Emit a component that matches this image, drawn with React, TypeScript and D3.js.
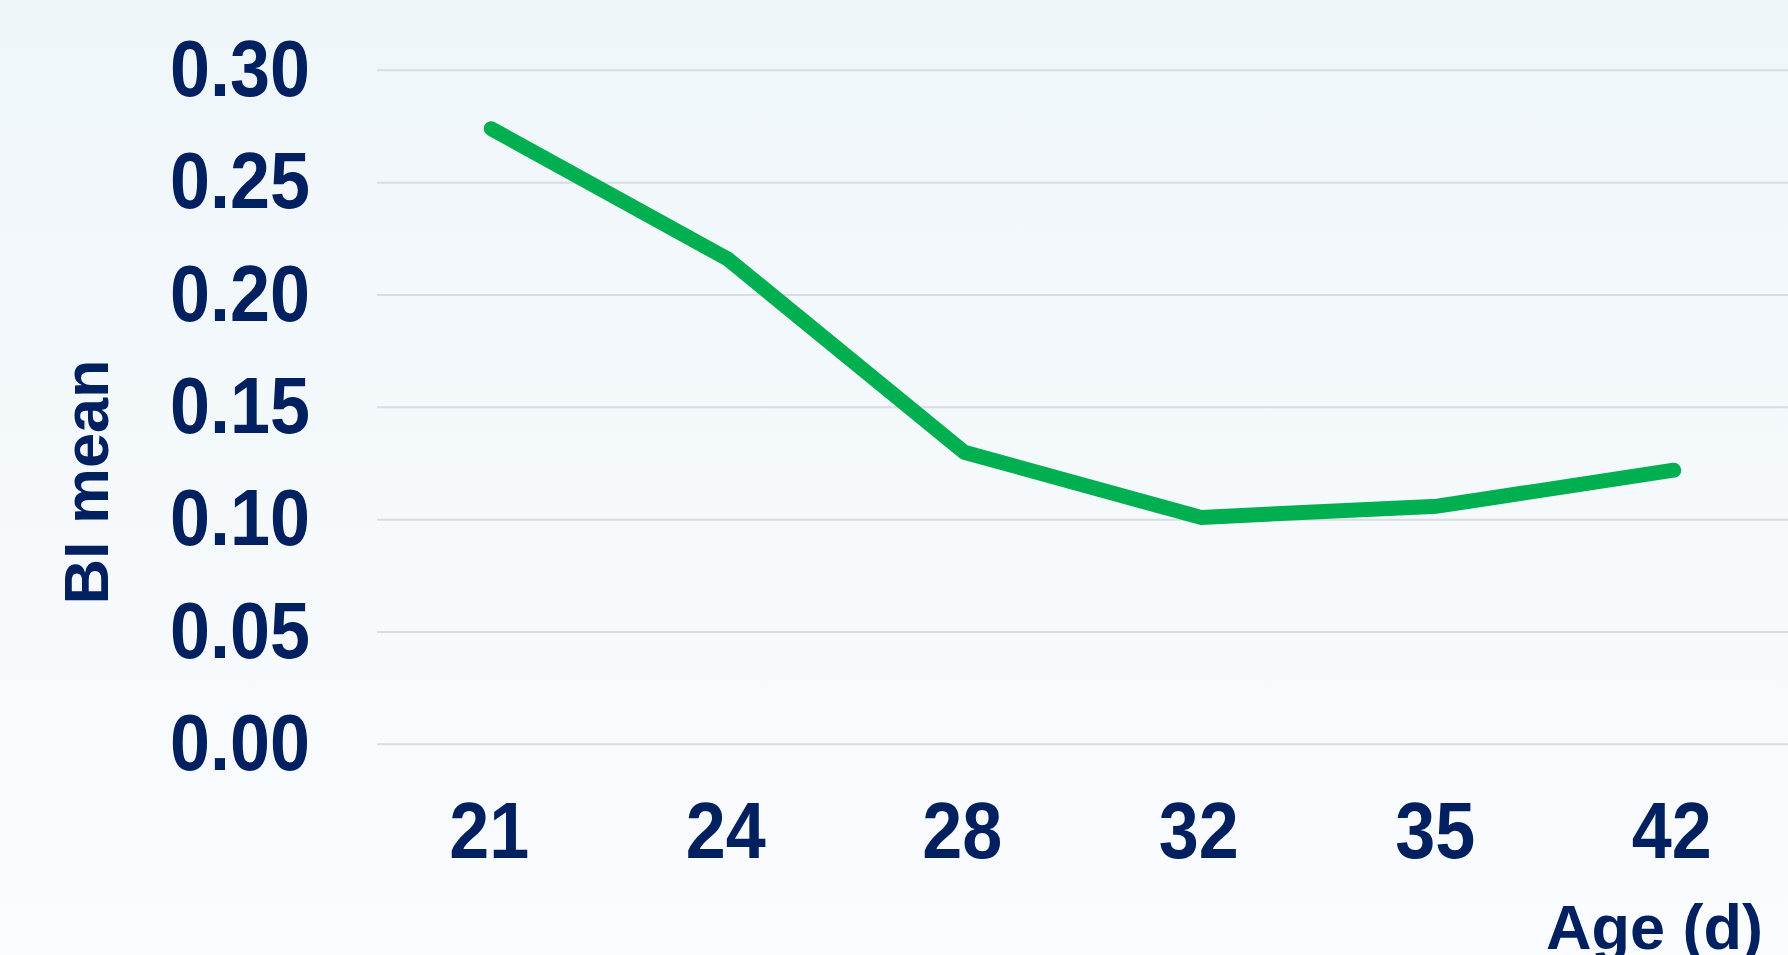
import React from "react";
import * as d3 from "d3";

const categories: string[] = ["21", "24", "28", "32", "35", "42"];
const biMean: number[] = [0.274, 0.216, 0.130, 0.101, 0.106, 0.122];
const yTicks: number[] = [0, 0.05, 0.1, 0.15, 0.2, 0.25, 0.3];
const yTitle = "BI mean";
const xTitle = "Age (d)";

const W = 1788;
const H = 955;
const FONT = "'Liberation Sans', Arial, sans-serif";
const NAVY = "#002060";
const GREEN = "#00b050";
const TICK_SIZE = 79;
const TICK_SX = 0.91;

export default function App() {
  const x = d3.scaleBand<string>().domain(categories).range([371, 1790]).padding(0);
  const y = d3.scaleLinear().domain([0, 0.3]).range([744.3, 70.3]);
  const cx = (c: string) => (x(c) as number) + x.bandwidth() / 2;

  const line = d3
    .line<number>()
    .x((_, i) => cx(categories[i]) + 2)
    .y((v) => y(v));

  return (
    <div style={{ position: "absolute", left: 0, top: 0, width: W, height: H }}>
      <svg width={W} height={H} style={{ display: "block" }}>
        <defs>
          <linearGradient id="bg" x1="0" y1="0" x2="0" y2="1">
            <stop offset="0" stopColor="#eff6fa" />
            <stop offset="1" stopColor="#fafcff" />
          </linearGradient>
        </defs>
        <rect x={0} y={0} width={W} height={H} fill="url(#bg)" />
        {yTicks.map((t) => (
          <g key={t}>
            <line x1={377} x2={W} y1={y(t)} y2={y(t)} stroke="#d9dce1" strokeWidth={2} />
            <g transform={`translate(310,${y(t) + 25.7}) scale(${TICK_SX},1)`}>
              <text
                x={0}
                y={0}
                textAnchor="end"
                fontFamily={FONT}
                fontWeight="bold"
                fontSize={TICK_SIZE}
                fill={NAVY}
              >
                {d3.format(".2f")(t)}
              </text>
            </g>
          </g>
        ))}
        {categories.map((c) => (
          <g key={c} transform={`translate(${cx(c)},857.5) scale(${TICK_SX},1)`}>
            <text
              x={0}
              y={0}
              textAnchor="middle"
              fontFamily={FONT}
              fontWeight="bold"
              fontSize={TICK_SIZE}
              fill={NAVY}
            >
              {c}
            </text>
          </g>
        ))}
        <path
          d={line(biMean) || ""}
          fill="none"
          stroke={GREEN}
          strokeWidth={15}
          strokeLinecap="round"
          strokeLinejoin="round"
        />
        <text
          transform={`translate(108,482) rotate(-90)`}
          textAnchor="middle"
          fontFamily={FONT}
          fontWeight="bold"
          fontSize={63}
          fill={NAVY}
        >
          {yTitle}
        </text>
        <text
          x={1763}
          y={949}
          textAnchor="end"
          fontFamily={FONT}
          fontWeight="bold"
          fontSize={63}
          fill={NAVY}
        >
          {xTitle}
        </text>
      </svg>
    </div>
  );
}
